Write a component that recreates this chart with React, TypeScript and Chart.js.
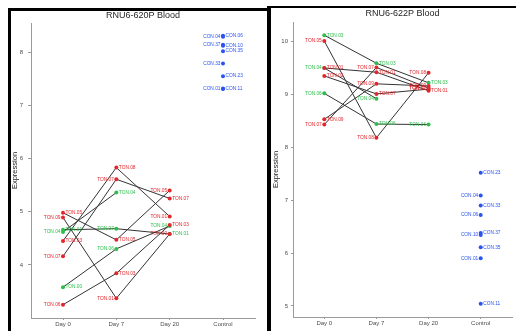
import React, { useEffect, useRef } from "react";
import { Chart, registerables } from "chart.js";

Chart.register(...registerables);

const FONT = "'Liberation Sans', Arial, sans-serif";

// x categories
const CATEGORIES = ["Day 0", "Day 7", "Day 20", "Control"];

// ---------- RNU6-620P Blood ----------
const TITLE_620 = "RNU6-620P Blood";
const Y_TICKS_620 = [4, 5, 6, 7, 8];
const Y_RANGE_620 = [3.0, 8.55];
const TON_620_VALUES: (number | null)[][] = [
  [4.98, 4.47, 5.4],
  [4.89, 3.37, 4.58],
  [4.66, 4.68, 4.58],
  [4.62, 5.36, null],
  [4.45, 5.83, 4.91],
  [4.16, 5.61, 5.25],
  [3.58, 4.3, 4.73],
  [3.25, 3.84, 4.75],
];
const TON_620_LABELS = [
  ["TON.05", "TON.05", "TON.05"],
  ["TON.09", "TON.01", "TON.09"],
  ["TON.01", "TON.07", "TON.01"],
  ["TON.04", "TON.04", ""],
  ["TON.03", "TON.08", "TON.01"],
  ["TON.07", "TON.07", "TON.07"],
  ["TON.00", "TON.06", "TON.04"],
  ["TON.06", "TON.03", "TON.03"],
];
const TON_620_GROUPS = [
  ["A", "A", "A"],
  ["A", "A", "A"],
  ["B", "B", "B"],
  ["B", "B", "B"],
  ["A", "A", "A"],
  ["A", "A", "A"],
  ["B", "B", "B"],
  ["A", "A", "A"],
];
const TON_620_SIDES = [
  ["R", "R", "L"],
  ["L", "L", "L"],
  ["R", "L", "R"],
  ["L", "R", "R"],
  ["R", "R", "L"],
  ["L", "L", "R"],
  ["R", "L", "L"],
  ["L", "R", "R"],
];
const CON_620_VALUES = [8.31, 8.29, 8.14, 8.12, 8.02, 7.79, 7.55, 7.32, 7.31];
const CON_620_LABELS = ["CON.06", "CON.04", "CON.37", "CON.10", "CON.35", "CON.33", "CON.23", "CON.01", "CON.11"];
const CON_620_SIDES = ["R", "L", "L", "R", "R", "L", "R", "L", "R"];

// ---------- RNU6-622P Blood ----------
const TITLE_622 = "RNU6-622P Blood";
const Y_TICKS_622 = [5, 6, 7, 8, 9, 10];
const Y_RANGE_622 = [4.79, 10.37];
const TON_622_VALUES: (number | null)[][] = [
  [10.12, 9.59, 9.22],
  [10.01, 8.18, 9.41],
  [9.5, 8.92, null],
  [9.5, 9.42, 9.07],
  [9.35, 9.01, 9.1],
  [9.02, 8.44, 8.43],
  [8.53, 9.2, 9.16],
  [8.43, 9.51, 9.12],
];
const TON_622_LABELS = [
  ["TON.03", "TON.03", "TON.03"],
  ["TON.05", "TON.08", "TON.08"],
  ["TON.04", "TON.04", ""],
  ["TON.01", "TON.01", "TON.01"],
  ["TON.02", "TON.07", "TON.02"],
  ["TON.06", "TON.06", "TON.06"],
  ["TON.09", "TON.09", "TON.09"],
  ["TON.07", "TON.07", "TON.07"],
];
const TON_622_GROUPS = [
  ["B", "B", "B"],
  ["A", "A", "A"],
  ["B", "B", "B"],
  ["A", "A", "A"],
  ["A", "A", "A"],
  ["B", "B", "B"],
  ["A", "A", "A"],
  ["A", "A", "A"],
];
const TON_622_SIDES = [
  ["R", "R", "R"],
  ["L", "L", "L"],
  ["L", "L", "L"],
  ["R", "R", "R"],
  ["R", "R", "L"],
  ["L", "R", "L"],
  ["R", "L", "L"],
  ["L", "L", "L"],
];
const CON_622_VALUES = [7.52, 7.09, 6.9, 6.72, 6.38, 6.34, 6.11, 5.9, 5.04];
const CON_622_LABELS = ["CON.23", "CON.04", "CON.33", "CON.06", "CON.37", "CON.10", "CON.35", "CON.01", "CON.11"];
const CON_622_SIDES = ["R", "L", "R", "L", "R", "L", "R", "L", "R"];

const COLORS: Record<string, string> = { A: "#E2262B", B: "#2DBE4C", C: "#2A53F0" };

const labelPlugin = {
  id: "pointLabels",
  afterDatasetsDraw(chart: any) {
    const ctx = chart.ctx;
    chart.data.datasets.forEach((ds: any, di: number) => {
      if (!ds.isPoints) return;
      const meta = chart.getDatasetMeta(di);
      ctx.save();
      ctx.font = `4.8px ${FONT}`;
      ctx.fillStyle = ds.backgroundColor;
      ctx.textBaseline = "middle";
      meta.data.forEach((el: any, i: number) => {
        const raw = ds.data[i];
        if (!raw || !raw.label) return;
        const { x, y } = el.getProps(["x", "y"], true);
        if (raw.side === "L") {
          ctx.textAlign = "right";
          ctx.fillText(raw.label, x - 2.5, y);
        } else {
          ctx.textAlign = "left";
          ctx.fillText(raw.label, x + 2.5, y);
        }
      });
      ctx.restore();
    });
  },
};

type PanelProps = {
  title: string;
  tonValues: (number | null)[][];
  tonLabels: string[][];
  tonGroups: string[][];
  tonSides: string[][];
  conValues: number[];
  conLabels: string[];
  conSides: string[];
  yTicks: number[];
  yRange: number[];
  left: number;
  width: number;
  geo: {
    padRight: number;
    yWidth: number;
    xHeight: number;
    titlePadTop: number;
    titlePadBottom: number;
    yTitlePad: number;
    yTickLen: number;
    yTickPad: number;
  };
};

function buildConfig(p: PanelProps): any {
  const lineSets = p.tonValues.map((vals) => ({
    type: "line",
    data: vals
      .map((v, i) => (v == null ? null : { x: i + 1, y: v }))
      .filter((d) => d !== null),
    borderColor: "#333333",
    borderWidth: 1,
    pointRadius: 0,
    showLine: true,
    tension: 0,
    order: 2,
  }));
  const groups: Record<string, any[]> = { A: [], B: [], C: [] };
  p.tonValues.forEach((vals, s) =>
    vals.forEach((v, i) => {
      if (v == null) return;
      groups[p.tonGroups[s][i]].push({ x: i + 1, y: v, label: p.tonLabels[s][i], side: p.tonSides[s][i] });
    })
  );
  p.conValues.forEach((v, i) => {
    groups.C.push({ x: 4, y: v, label: p.conLabels[i], side: p.conSides[i] });
  });
  const pointSets = Object.keys(groups).map((g) => ({
    type: "scatter",
    isPoints: true,
    data: groups[g],
    backgroundColor: COLORS[g],
    borderWidth: 0,
    pointRadius: 2,
    showLine: false,
    order: 0,
  }));
  const tickFont = { size: 6, family: FONT };
  return {
    type: "scatter",
    data: { datasets: [...pointSets, ...lineSets] },
    options: {
      animation: false,
      responsive: false,
      devicePixelRatio: 1,
      layout: { padding: { left: 0, right: p.geo.padRight, top: 0, bottom: 0 } },
      plugins: {
        legend: { display: false },
        tooltip: { enabled: false },
        title: {
          display: true,
          text: p.title,
          fullSize: false,
          color: "#262626",
          font: { size: 9, family: FONT, weight: "normal" },
          padding: { top: p.geo.titlePadTop, bottom: p.geo.titlePadBottom },
        },
      },
      scales: {
        x: {
          type: "linear",
          min: 0.4,
          max: 4.6,
          afterBuildTicks: (s: any) => {
            s.ticks = CATEGORIES.map((_, i) => ({ value: i + 1 }));
          },
          afterFit: (s: any) => {
            s.height = p.geo.xHeight;
          },
          ticks: {
            callback: (v: any) => CATEGORIES[Math.round(v) - 1] ?? "",
            font: tickFont,
            color: "#4d4d4d",
            padding: 1,
            autoSkip: false,
            maxRotation: 0,
          },
          grid: { drawOnChartArea: false, drawTicks: true, tickLength: 2, color: "#9a9a9a" },
          border: { display: true, color: "#9a9a9a", width: 1 },
        },
        y: {
          type: "linear",
          min: p.yRange[0],
          max: p.yRange[1],
          afterBuildTicks: (s: any) => {
            s.ticks = p.yTicks.map((v) => ({ value: v }));
          },
          afterFit: (s: any) => {
            s.width = p.geo.yWidth;
          },
          ticks: { font: tickFont, color: "#4d4d4d", padding: p.geo.yTickPad },
          grid: { drawOnChartArea: false, drawTicks: true, tickLength: p.geo.yTickLen, color: "#9a9a9a" },
          border: { display: true, color: "#9a9a9a", width: 1 },
          title: {
            display: true,
            text: "Expression",
            color: "#1a1a1a",
            font: { size: 7.5, family: FONT },
            padding: { top: p.geo.yTitlePad, bottom: 0 },
          },
        },
      },
    },
    plugins: [labelPlugin],
  };
}

function Panel(p: PanelProps) {
  const ref = useRef<HTMLCanvasElement | null>(null);
  useEffect(() => {
    if (!ref.current) return;
    const chart = new Chart(ref.current, buildConfig(p));
    return () => chart.destroy();
  }, []);
  return (
    <canvas
      ref={ref}
      width={p.width}
      height={331}
      style={{ position: "absolute", left: p.left, top: 0, width: p.width, height: 331 }}
    />
  );
}

export default function App() {
  return (
    <div
      style={{
        position: "absolute",
        left: 0,
        top: 0,
        width: 516,
        height: 331,
        overflow: "hidden",
        background: "#fff",
      }}
    >
      <Panel
        title={TITLE_620}
        tonValues={TON_620_VALUES}
        tonLabels={TON_620_LABELS}
        tonGroups={TON_620_GROUPS}
        tonSides={TON_620_SIDES}
        conValues={CON_620_VALUES}
        conLabels={CON_620_LABELS}
        conSides={CON_620_SIDES}
        yTicks={Y_TICKS_620}
        yRange={Y_RANGE_620}
        left={0}
        width={267}
        geo={{
          padRight: 12,
          yWidth: 31,
          xHeight: 13,
          titlePadTop: 10.6,
          titlePadBottom: 1.6,
          yTitlePad: 10.5,
          yTickLen: 3,
          yTickPad: 5,
        }}
      />
      <Panel
        title={TITLE_622}
        tonValues={TON_622_VALUES}
        tonLabels={TON_622_LABELS}
        tonGroups={TON_622_GROUPS}
        tonSides={TON_622_SIDES}
        conValues={CON_622_VALUES}
        conLabels={CON_622_LABELS}
        conSides={CON_622_SIDES}
        yTicks={Y_TICKS_622}
        yRange={Y_RANGE_622}
        left={271}
        width={245}
        geo={{
          padRight: 0,
          yWidth: 22,
          xHeight: 14,
          titlePadTop: 8.6,
          titlePadBottom: 2.6,
          yTitlePad: 0.5,
          yTickLen: 2,
          yTickPad: 3,
        }}
      />
      <div
        style={{
          position: "absolute",
          left: 8,
          top: 8,
          width: 263,
          height: 400,
          border: "3px solid #000",
          borderBottom: "none",
          boxSizing: "border-box",
          pointerEvents: "none",
        }}
      />
      <div
        style={{
          position: "absolute",
          left: 267,
          top: 6,
          width: 260,
          height: 400,
          borderLeft: "4px solid #000",
          borderTop: "2px solid #000",
          boxSizing: "border-box",
          pointerEvents: "none",
        }}
      />
    </div>
  );
}
